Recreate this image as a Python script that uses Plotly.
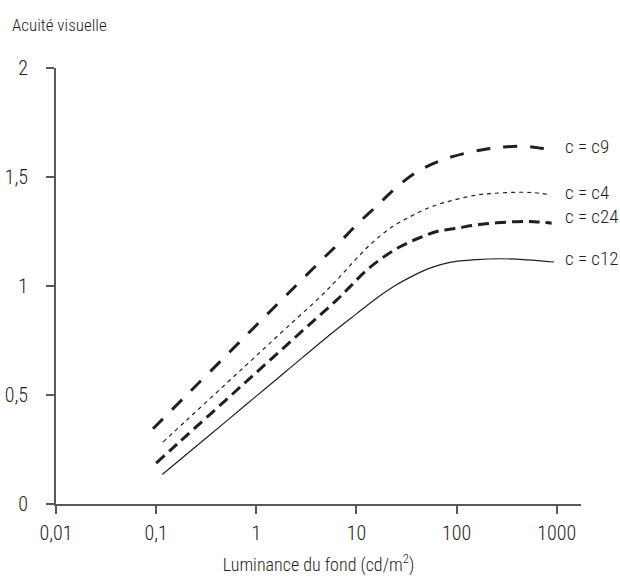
import plotly.graph_objects as go

# ---- data ----
c9_x = [0.093, 0.2, 0.5, 1, 2, 4.2, 6.6, 10, 15.7, 24.5, 40, 69, 122, 200, 300, 500, 700, 890]
c9_y = [0.345, 0.498, 0.681, 0.82, 0.958, 1.106, 1.194, 1.28, 1.364, 1.448, 1.523, 1.575, 1.609, 1.628, 1.638, 1.64, 1.632, 1.624]

c4_x = [0.117, 0.2, 0.5, 1, 2, 4.36, 6.6, 9.7, 14.2, 21.7, 34.4, 56.5, 93, 158, 233, 400, 600, 820]
c4_y = [0.284, 0.383, 0.552, 0.68, 0.808, 0.951, 1.035, 1.119, 1.196, 1.265, 1.318, 1.364, 1.394, 1.417, 1.425, 1.43, 1.428, 1.42]

c24_x = [0.1, 0.15, 0.2, 0.5, 1, 2, 4, 6.37, 8.65, 12.2, 17.9, 27.3, 41.6, 63.5, 100, 158, 251, 400, 600, 890]
c24_y = [0.188, 0.261, 0.313, 0.478, 0.603, 0.728, 0.853, 0.936, 0.997, 1.066, 1.127, 1.18, 1.219, 1.25, 1.265, 1.28, 1.29, 1.295, 1.295, 1.288]

c12_x = [0.115, 0.2, 0.5, 1, 2, 5, 10, 16, 24, 35, 55, 86, 158, 272, 500, 940]
c12_y = [0.135, 0.227, 0.379, 0.495, 0.61, 0.763, 0.872, 0.945, 1.0, 1.042, 1.083, 1.108, 1.121, 1.125, 1.12, 1.11]

series_names = ["c = c9", "c = c4", "c = c24", "c = c12"]
label_y = [1.642, 1.427, 1.317, 1.128]

x_ticks = [0.01, 0.1, 1, 10, 100, 1000]
x_tick_text = ["0,01", "0,1", "1", "10", "100", "1000"]
y_ticks = [0, 0.5, 1, 1.5, 2]
y_tick_text = ["0", "0,5", "1", "1,5", "2"]

FONT = "Roboto Condensed, Roboto, sans-serif"
INK = "#231f20"
AXIS = "#58595b"
W = 350

fig = go.Figure()
styles = [
    dict(width=3, dash="14px,13px"),
    dict(width=1.2, dash="4px,4px"),
    dict(width=3, dash="11px,6px"),
    dict(width=1.2, dash="solid"),
]
for xs, ys, st, nm in zip([c9_x, c4_x, c24_x, c12_x], [c9_y, c4_y, c24_y, c12_y], styles, series_names):
    fig.add_trace(go.Scatter(x=xs, y=ys, mode="lines", name=nm,
                             line=dict(color=INK, width=st["width"], dash=st["dash"], shape="spline", smoothing=1.0),
                             showlegend=False))

for nm, ly in zip(series_names, label_y):
    fig.add_annotation(x=3.063, y=ly, xref="x", yref="y", text=nm, showarrow=False,
                       xanchor="left", yanchor="middle", font=dict(family=FONT, size=19, color=INK, weight=W))

fig.add_annotation(x=(10 - 56) / 525, y=(504 - 25) / 436, xref="paper", yref="paper", text="Acuité visuelle",
                   showarrow=False, xanchor="left", yanchor="middle",
                   font=dict(family=FONT, size=17, color=INK, weight=W))

fig.update_layout(
    width=620, height=581,
    margin=dict(l=56, r=39, t=68, b=77),
    paper_bgcolor="white", plot_bgcolor="white",
    font=dict(family=FONT, size=19, color=INK, weight=W),
    xaxis=dict(type="log", range=[-2, 3.2425], tickvals=x_ticks, ticktext=x_tick_text, automargin=False,
               showgrid=False, zeroline=False, showline=True, linecolor=AXIS, linewidth=2,
               ticks="outside", ticklen=8, tickwidth=1.5, tickcolor=AXIS, ticklabelstandoff=2,
               tickfont=dict(family=FONT, size=20, color=INK, weight=W),
               title=dict(text="Luminance du fond (cd/m<sup>2</sup>)", standoff=14,
                          font=dict(family=FONT, size=18, color=INK, weight=W))),
    yaxis=dict(range=[0, 2], tickvals=y_ticks, ticktext=y_tick_text, automargin=False,
               showgrid=False, zeroline=False, showline=True, linecolor=AXIS, linewidth=2,
               ticks="outside", ticklen=8, tickwidth=1.5, tickcolor=AXIS, ticklabelstandoff=14,
               tickfont=dict(family=FONT, size=20, color=INK, weight=W)),
)

fig.write_html("out.html")
